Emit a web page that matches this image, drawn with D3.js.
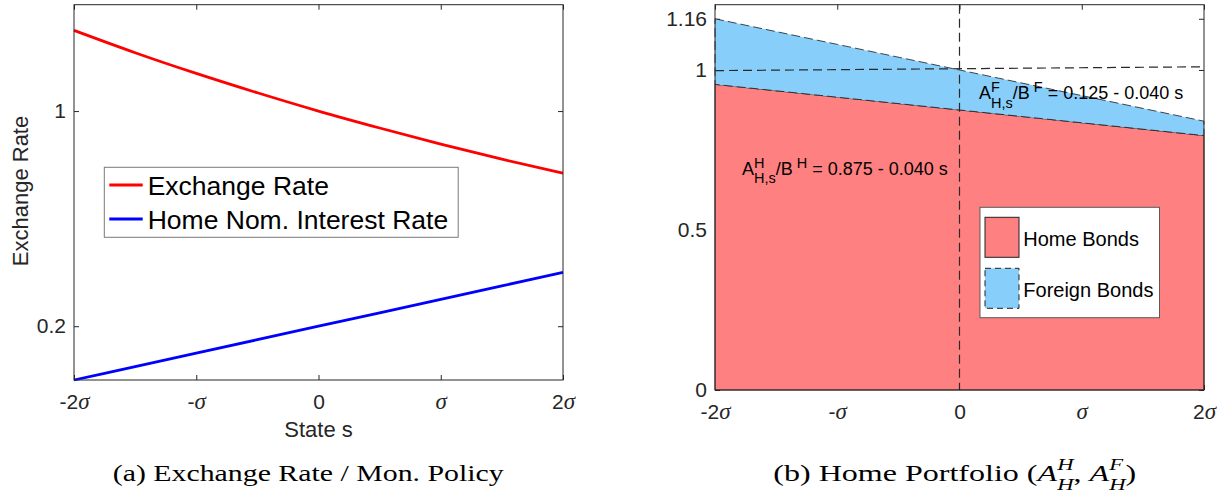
<!DOCTYPE html>
<html><head><meta charset="utf-8">
<script src="https://cdn.jsdelivr.net/npm/d3@7"></script>
<style>body{margin:0;background:#fff}</style>
</head><body>
<svg id="c" width="1223" height="493" style="background:#fff"></svg>
<script>
// ---------- data ----------
const sGrid = [-2, -1.5, -1, -0.5, 0, 0.5, 1, 1.5, 2];
const exchangeRate = [1.300, 1.217, 1.140, 1.068, 1.000, 0.937, 0.877, 0.821, 0.769];
const homeInterest = [0.000, 0.050, 0.100, 0.150, 0.200, 0.250, 0.300, 0.350, 0.400];
const xTickValues = [-2, -1, 0, 1, 2];
const xTickLabels = ["-2σ", "-σ", "0", "σ", "2σ"];
const leftYTicks = [0.2, 1];
const leftYTickLabels = ["0.2", "1"];
const legendA = ["Exchange Rate", "Home Nom. Interest Rate"];

const sPort = [-2, -1, 0, 1, 2];
const homeBonds = [0.955, 0.915, 0.875, 0.835, 0.795];
const foreignBonds = [0.205, 0.165, 0.125, 0.085, 0.045];
const refS = [-2, 2];
const refLevel = [0.998, 1.010];
const rightYTicks = [0, 0.5, 1, 1.16];
const rightYTickLabels = ["0", "0.5", "1", "1.16"];
const legendB = ["Home Bonds", "Foreign Bonds"];

// ---------- helpers ----------
const SANS = "'Liberation Sans', Arial, Helvetica, sans-serif";
const SERIF = "'Liberation Serif', 'Times New Roman', serif";
const AX = "#262626";
const svg = d3.select("#c");

function addText(parent, q, cx) {
  return parent.append("text")
    .attr("x", cx).attr("y", q.dy || 0)
    .attr("font-family", q.family || SANS)
    .attr("font-size", q.size || 18)
    .attr("font-style", q.italic ? "italic" : null)
    .attr("fill", q.fill || "#000")
    .style("white-space", "pre")
    .text(q.t);
}
function rich(parent, pieces, x, y, opt = {}) {
  const g = parent.append("g");
  let cx = 0;
  for (const p of pieces) {
    if (p.stack) {
      let w = 0;
      for (const q of p.stack) {
        const t = addText(g, q, cx);
        w = Math.max(w, t.node().getComputedTextLength());
      }
      cx += w;
    } else {
      const t = addText(g, p, cx);
      cx += t.node().getComputedTextLength();
    }
  }
  const sx = opt.width ? opt.width / cx : 1;
  const x0 = opt.anchor === "middle" ? -cx * sx / 2 : opt.anchor === "end" ? -cx * sx : 0;
  g.attr("transform", `translate(${x + x0},${y}) scale(${sx},1)`);
  return g;
}
function styleAxis(g, showText) {
  g.select(".domain").remove();
  g.selectAll(".tick line").attr("stroke", AX).attr("stroke-width", 1);
  if (!showText) g.selectAll(".tick text").remove();
  else g.selectAll(".tick text").attr("fill", AX).attr("font-family", SANS).attr("font-size", 21);
}
function sigmaLabels(g) {
  g.selectAll(".tick text").each(function (d, i) {
    const lab = xTickLabels[i];
    const t = d3.select(this);
    t.text(null);
    const parts = lab.split("σ");
    if (parts[0]) t.append("tspan").attr("font-family", SANS).text(parts[0]);
    if (lab.includes("σ")) t.append("tspan").attr("font-family", SERIF)
      .attr("font-style", "italic").attr("font-size", 23).text("σ");
  });
}

// ================= Panel A =================
const xA = d3.scaleLinear().domain([-2, 2]).range([74, 563]);
const yA = d3.scaleLinear().domain([0, 1.3955]).range([380, 4.7]);
const gA = svg.append("g");

gA.append("g").attr("transform", `translate(0,${yA.range()[0]})`)
  .call(d3.axisBottom(xA).tickValues(xTickValues).tickFormat((d, i) => xTickLabels[i]).tickSize(-5))
  .call(g => styleAxis(g, true))
  .call(g => g.selectAll(".tick text").attr("y", 29).attr("dy", null))
  .call(sigmaLabels);
gA.append("g").attr("transform", `translate(0,${yA.range()[1]})`)
  .call(d3.axisTop(xA).tickValues(xTickValues).tickSize(-5)).call(g => styleAxis(g, false));
gA.append("g").attr("transform", `translate(${xA.range()[0]},0)`)
  .call(d3.axisLeft(yA).tickValues(leftYTicks).tickFormat((d, i) => leftYTickLabels[i]).tickSize(-5).tickPadding(8))
  .call(g => styleAxis(g, true));
gA.append("g").attr("transform", `translate(${xA.range()[1]},0)`)
  .call(d3.axisRight(yA).tickValues(leftYTicks).tickSize(-5)).call(g => styleAxis(g, false));

const lineA = d3.line().x((d, i) => xA(sGrid[i])).y(d => yA(d)).curve(d3.curveMonotoneX);
gA.append("path").datum(exchangeRate).attr("d", lineA).attr("fill", "none").attr("stroke", "#ff0000").attr("stroke-width", 2.8);
gA.append("path").datum(homeInterest).attr("d", lineA).attr("fill", "none").attr("stroke", "#0000ff").attr("stroke-width", 2.8);

gA.append("rect").attr("x", xA.range()[0]).attr("y", yA.range()[1])
  .attr("width", xA.range()[1] - xA.range()[0]).attr("height", yA.range()[0] - yA.range()[1])
  .attr("fill", "none").attr("stroke", AX).attr("stroke-width", 1);

// legend A
const lgA = gA.append("g");
lgA.append("rect").attr("x", 104.3).attr("y", 167.3).attr("width", 353.9).attr("height", 70)
  .attr("fill", "#fff").attr("stroke", "#7a7a7a").attr("stroke-width", 1);
const lgColors = ["#ff0000", "#0000ff"];
legendA.forEach((lab, i) => {
  const yy = 185 + i * 34;
  lgA.append("line").attr("x1", 109.3).attr("x2", 142.7).attr("y1", yy).attr("y2", yy)
    .attr("stroke", lgColors[i]).attr("stroke-width", 2.8);
  lgA.append("text").attr("x", 147.7).attr("y", yy + 9.5).attr("font-family", SANS)
    .attr("font-size", 26.5).attr("fill", "#000").text(lab);
});

// axis labels A
gA.append("text").attr("x", 318.5).attr("y", 437).attr("text-anchor", "middle")
  .attr("font-family", SANS).attr("font-size", 22).attr("fill", AX).text("State s");
gA.append("text").attr("transform", "translate(28,191) rotate(-90)").attr("text-anchor", "middle")
  .attr("font-family", SANS).attr("font-size", 22).attr("fill", AX).text("Exchange Rate");

rich(svg, [{ t: "(a) Exchange Rate / Mon. Policy", size: 24, family: SERIF }], 308.3, 481,
  { anchor: "middle", width: 391 });

// ================= Panel B =================
const xB = d3.scaleLinear().domain([-2, 2]).range([715, 1204]);
const yB = d3.scaleLinear().domain([0, 1.204]).range([390, 4.7]);
const gB = svg.append("g");

gB.append("g").attr("transform", `translate(0,${yB.range()[0]})`)
  .call(d3.axisBottom(xB).tickValues(xTickValues).tickFormat((d, i) => xTickLabels[i]).tickSize(-5))
  .call(g => styleAxis(g, true))
  .call(g => g.selectAll(".tick text").attr("y", 29).attr("dy", null))
  .call(sigmaLabels);
gB.append("g").attr("transform", `translate(0,${yB.range()[1]})`)
  .call(d3.axisTop(xB).tickValues(xTickValues).tickSize(-5)).call(g => styleAxis(g, false));
gB.append("g").attr("transform", `translate(${xB.range()[0]},0)`)
  .call(d3.axisLeft(yB).tickValues(rightYTicks).tickFormat((d, i) => rightYTickLabels[i]).tickSize(-5).tickPadding(8))
  .call(g => styleAxis(g, true));
gB.append("g").attr("transform", `translate(${xB.range()[1]},0)`)
  .call(d3.axisRight(yB).tickValues(rightYTicks).tickSize(-5)).call(g => styleAxis(g, false));

const homeArea = d3.area().x((d, i) => xB(sPort[i])).y0(yB(0)).y1(d => yB(d));
const forArea = d3.area().x((d, i) => xB(sPort[i]))
  .y0((d, i) => yB(homeBonds[i])).y1((d, i) => yB(homeBonds[i] + foreignBonds[i]));
gB.append("path").datum(homeBonds).attr("d", homeArea).attr("fill", "#ff8080")
  .attr("stroke", "#1a1a1a").attr("stroke-width", 0.8);
gB.append("path").datum(foreignBonds).attr("d", forArea).attr("fill", "#87cefa")
  .attr("stroke", "#1a1a1a").attr("stroke-width", 0.8).attr("stroke-dasharray", "9,4");

const refLine = d3.line().x((d, i) => xB(refS[i])).y(d => yB(d));
gB.append("path").datum(refLevel).attr("d", refLine).attr("fill", "none")
  .attr("stroke", "#2a2a2a").attr("stroke-width", 1.2).attr("stroke-dasharray", "9,5");
gB.append("line").attr("x1", xB(0)).attr("x2", xB(0)).attr("y1", yB.range()[1]).attr("y2", yB.range()[0])
  .attr("stroke", "#2a2a2a").attr("stroke-width", 1.2).attr("stroke-dasharray", "9,5");

gB.append("rect").attr("x", xB.range()[0]).attr("y", yB.range()[1])
  .attr("width", xB.range()[1] - xB.range()[0]).attr("height", yB.range()[0] - yB.range()[1])
  .attr("fill", "none").attr("stroke", AX).attr("stroke-width", 1);

// annotations
const sup = -7, sub = 8.5;
rich(gB, [
  { t: "A", size: 18 },
  { stack: [{ t: "F", size: 14.5, dy: sup }, { t: "H,s", size: 14.5, dy: sub }] },
  { t: "/B", size: 18 },
  { t: " F", size: 14.5, dy: sup },
  { t: " = 0.125 - 0.040 s", size: 18 }
], xB(0.16), yB(0.909));
rich(gB, [
  { t: "A", size: 18 },
  { stack: [{ t: "H", size: 14.5, dy: sup }, { t: "H,s", size: 14.5, dy: sub }] },
  { t: "/B", size: 18 },
  { t: " H", size: 14.5, dy: sup },
  { t: " = 0.875 - 0.040 s", size: 18 }
], xB(-1.78), yB(0.672));

// legend B
const lgB = gB.append("g");
lgB.append("rect").attr("x", 980).attr("y", 207.3).attr("width", 179.5).attr("height", 110.4)
  .attr("fill", "#fff").attr("stroke", "#5a5a5a").attr("stroke-width", 1);
const lgFill = ["#ff8080", "#87cefa"];
const lgDash = [null, "6,4"];
legendB.forEach((lab, i) => {
  const yy = 217.3 + i * 51;
  lgB.append("rect").attr("x", 985).attr("y", yy).attr("width", 34).attr("height", 40)
    .attr("fill", lgFill[i]).attr("stroke", "#222").attr("stroke-width", 1).attr("stroke-dasharray", lgDash[i]);
  lgB.append("text").attr("x", 1023.3).attr("y", yy + 28.2).attr("font-family", SANS)
    .attr("font-size", 20).attr("fill", "#000").text(lab);
});

const it = { family: SERIF, italic: true };
rich(svg, [
  { t: "(b) Home Portfolio (", size: 24, family: SERIF },
  Object.assign({ t: "A", size: 24 }, it),
  { stack: [Object.assign({ t: "H", size: 17, dy: -11 }, it), Object.assign({ t: "H", size: 17, dy: 9 }, it)] },
  { t: ", ", size: 24, family: SERIF },
  Object.assign({ t: "A", size: 24 }, it),
  { stack: [Object.assign({ t: "F", size: 17, dy: -11 }, it), Object.assign({ t: "H", size: 17, dy: 9 }, it)] },
  { t: ")", size: 24, family: SERIF }
], 954.8, 481, { anchor: "middle", width: 363 });
</script>
</body></html>
